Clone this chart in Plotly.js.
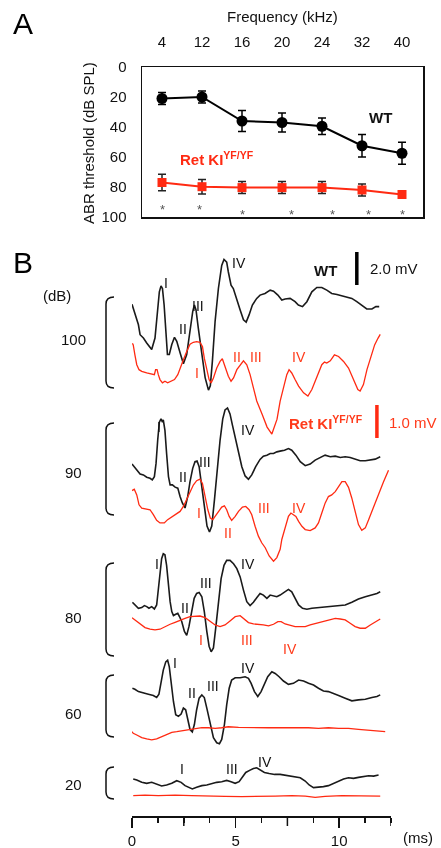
<!DOCTYPE html>
<html>
<head>
<meta charset="utf-8">
<script src="https://cdn.plot.ly/plotly-3.0.1.min.js"></script>
<style>
html,body{margin:0;padding:0;background:#fff;}
#chart{width:441px;height:848px;will-change:transform;}
#chart .main-svg{will-change:transform;}
#chart text{-webkit-font-smoothing:antialiased;}
</style>
</head>
<body>
<div id="chart"></div>
<script>
// ---------- Panel A data: ABR thresholds (dB SPL) ----------
const freqLabels = ['4','12','16','20','24','32','40'];
const wtThreshold = [21, 20, 36, 37, 39.5, 52.5, 57.5];
const wtError     = [4, 4, 7, 6.3, 5.5, 7.5, 7.3];
const kiThreshold = [77, 79.8, 80.4, 80.4, 80.4, 82, 85];
const kiError     = [5.5, 4.8, 4, 4, 4, 4, 0];
const sigMarks    = ['*','*','*','*','*','*','*'];

// ---------- Panel B data: ABR waveforms (time in ms, amplitude in µV) ----------
const levels = ['100','90','80','60','20'];
const timeLabels = [0, 5, 10];
const scaleWT_mV = 2.0;
const scaleKI_mV = 1.0;

const wt100T = [0,0.14,0.31,0.39,0.55,0.71,0.87,0.95,1.11,1.22,1.32,1.40,1.47,1.55,1.63,1.71,1.80,1.92,2.05,2.16,2.32,2.48,2.64,2.80,2.93,3.01,3.09,3.20,3.37,3.53,3.69,3.78,3.88,4.01,4.17,4.33,4.44,4.57,4.65,4.78,4.89,5.06,5.22,5.38,5.51,5.65,5.81,6.02,6.18,6.42,6.67,6.83,7.04,7.23,7.39,7.63,7.87,8.03,8.23,8.44,8.68,8.92,9.16,9.40,9.64,9.89,10.13,10.37,10.61,10.85,11.09,11.33,11.58,11.77,11.93];
const wt100V = [0,-540,-1240,-1840,-2040,-2340,-2640,-2740,-2040,-640,760,1120,960,-40,-1840,-3040,-3040,-2440,-2000,-2240,-2940,-3600,-3040,-1440,-440,-40,-340,-1440,-3040,-4440,-5200,-4940,-3440,-1040,960,2360,2720,2560,1960,1160,960,360,-340,-940,-1080,-640,-40,360,560,660,860,800,560,260,320,360,160,-40,-140,160,760,1020,1020,860,660,600,520,400,360,160,-40,-280,-280,-140,-140];

const ki100T = [0.02,0.06,0.14,0.23,0.34,0.47,0.71,0.95,1.08,1.14,1.21,1.27,1.35,1.47,1.59,1.72,1.88,2.05,2.21,2.32,2.48,2.64,2.80,2.96,3.12,3.28,3.40,3.49,3.61,3.72,3.82,3.93,4.09,4.25,4.36,4.49,4.65,4.78,4.90,5.06,5.22,5.38,5.54,5.70,5.86,6.02,6.28,6.52,6.75,7.00,7.15,7.31,7.47,7.58,7.71,7.87,8.04,8.28,8.49,8.68,8.92,9.16,9.29,9.40,9.57,9.77,9.97,10.21,10.45,10.69,10.90,11.01,11.17,11.34,11.50,11.71,11.87,11.98];
const ki100V = [0,-50,-350,-650,-800,-850,-900,-930,-950,-800,-800,-950,-1100,-1200,-1150,-1200,-1150,-1100,-950,-750,-500,-250,-30,30,50,30,-100,-450,-800,-1100,-1200,-1050,-750,-550,-470,-700,-1000,-1150,-1050,-800,-650,-530,-650,-950,-1350,-1750,-2150,-2540,-2750,-2300,-1750,-1350,-950,-800,-900,-1100,-1300,-1500,-1600,-1400,-1050,-650,-570,-600,-530,-350,-400,-550,-750,-1100,-1400,-1450,-1250,-800,-450,-50,150,270];

const wt90T = [0,0.11,0.23,0.39,0.55,0.71,0.87,0.98,1.08,1.16,1.24,1.32,1.40,1.47,1.51,1.59,1.67,1.76,1.84,1.95,2.08,2.21,2.32,2.43,2.56,2.69,2.80,2.93,3.04,3.14,3.24,3.37,3.49,3.62,3.74,3.85,3.98,4.12,4.25,4.38,4.49,4.61,4.73,4.85,4.98,5.14,5.30,5.46,5.62,5.78,5.97,6.18,6.34,6.51,6.67,6.83,6.99,7.20,7.36,7.55,7.71,7.91,8.12,8.36,8.60,8.84,9.08,9.32,9.57,9.81,10.05,10.29,10.53,10.77,11.01,11.26,11.50,11.74,11.98];
const wt90V = [0,-160,-400,-600,-660,-800,-860,-960,-760,40,1440,2540,2740,2540,2680,2040,640,-760,-1260,-1260,-1400,-1460,-1960,-2360,-2660,-1960,-1060,-260,140,180,-160,-1360,-2760,-3760,-4120,-3760,-2160,-160,1440,2740,3280,3400,3040,2340,1640,640,-160,-720,-920,-660,-160,280,480,540,640,640,740,800,840,940,840,540,140,-100,0,240,400,540,440,480,400,440,400,280,200,200,240,300,440];

const ki90T = [0,0.11,0.23,0.34,0.47,0.66,0.87,1.03,1.19,1.35,1.56,1.72,1.92,2.11,2.32,2.48,2.64,2.80,2.96,3.12,3.28,3.40,3.53,3.66,3.78,3.90,4.01,4.17,4.33,4.46,4.57,4.69,4.81,4.98,5.14,5.33,5.49,5.65,5.78,5.94,6.10,6.26,6.43,6.62,6.83,6.99,7.15,7.23,7.39,7.55,7.67,7.79,7.91,8.04,8.20,8.36,8.60,8.84,9.00,9.16,9.32,9.48,9.64,9.81,9.97,10.13,10.29,10.45,10.61,10.77,10.93,11.09,11.26,11.42,11.66,11.90,12.14,12.38];
const ki90V = [0,40,-130,-430,-530,-560,-580,-730,-900,-980,-980,-880,-800,-730,-630,-480,-280,-30,170,300,350,220,-180,-580,-830,-880,-780,-630,-500,-460,-580,-780,-900,-780,-630,-500,-480,-580,-730,-1080,-1380,-1580,-1730,-1980,-2140,-2030,-1780,-1480,-1130,-780,-680,-730,-780,-930,-1080,-1180,-1210,-1130,-980,-680,-380,-180,-130,-30,140,270,270,100,-230,-630,-1030,-1200,-1130,-880,-480,-80,270,620];

const wt80T = [0.02,0.14,0.31,0.47,0.60,0.71,0.82,0.95,1.08,1.19,1.27,1.35,1.43,1.51,1.59,1.67,1.76,1.84,1.92,2.00,2.11,2.21,2.29,2.40,2.53,2.64,2.75,2.88,3.00,3.12,3.24,3.37,3.49,3.61,3.72,3.82,3.93,4.04,4.17,4.30,4.44,4.57,4.73,4.90,5.06,5.22,5.38,5.54,5.70,5.86,6.02,6.18,6.34,6.51,6.67,6.83,6.99,7.15,7.36,7.55,7.71,7.87,8.04,8.23,8.44,8.68,9.00,9.32,9.65,9.97,10.29,10.61,10.93,11.26,11.58,11.82,11.98];
const wt80V = [0,-160,-360,-320,-200,-260,-360,-260,-400,-160,840,1840,2640,2940,2880,2240,1040,40,-560,-800,-720,-660,-860,-1160,-1760,-2000,-1460,-560,240,540,600,340,-560,-1760,-2660,-3000,-2760,-1560,40,1440,2240,2540,2540,2340,2040,1540,740,40,-200,0,280,540,440,240,440,400,340,440,600,780,640,240,-160,-360,-420,-360,-320,-320,-260,-200,-160,0,200,340,440,540,640];

const ki80T = [0,0.14,0.39,0.63,0.87,1.11,1.35,1.59,1.84,2.08,2.32,2.56,2.80,3.04,3.28,3.53,3.77,4.01,4.25,4.49,4.73,4.98,5.22,5.43,5.62,5.86,6.10,6.34,6.59,6.83,7.04,7.20,7.39,7.63,7.87,8.12,8.36,8.60,8.84,9.16,9.48,9.81,10.05,10.29,10.53,10.77,11.01,11.26,11.50,11.74,11.98];
const ki80V = [0,-70,-200,-300,-350,-370,-350,-270,-200,-140,-70,-20,30,50,50,0,-100,-220,-270,-220,-100,30,60,-40,-150,-190,-200,-220,-250,-200,-120,-120,-190,-240,-270,-270,-270,-220,-180,-120,-70,-20,-40,-70,-170,-270,-320,-320,-220,-120,-40];

const wt60T = [0.02,0.14,0.31,0.55,0.79,1.03,1.19,1.30,1.40,1.51,1.63,1.72,1.80,1.88,2.00,2.11,2.24,2.37,2.48,2.59,2.69,2.80,2.91,3.01,3.12,3.24,3.37,3.49,3.61,3.77,3.93,4.09,4.22,4.33,4.46,4.57,4.69,4.81,4.98,5.22,5.46,5.62,5.75,5.91,6.07,6.23,6.39,6.55,6.75,6.91,7.10,7.31,7.55,7.79,8.04,8.28,8.52,8.76,9.00,9.24,9.48,9.73,9.97,10.29,10.61,10.93,11.26,11.58,11.82,11.98];
const wt60V = [0,-60,-200,-300,-360,-440,-560,-360,300,1100,1600,1700,1300,400,-800,-1600,-1700,-1560,-1200,-1300,-1800,-2500,-2640,-2200,-1300,-600,-400,-560,-1200,-2200,-3000,-3300,-3360,-3100,-2200,-1000,0,500,640,640,700,600,300,-200,-500,-200,300,700,1000,900,700,440,240,300,500,440,300,200,0,-160,-200,-300,-440,-600,-760,-700,-660,-560,-500,-400];

const ki60T = [0,0.06,0.23,0.47,0.71,0.95,1.19,1.43,1.67,1.92,2.16,2.40,2.64,2.88,3.12,3.37,3.69,4.01,4.33,4.65,5.14,5.62,6.10,6.59,7.07,7.55,8.04,8.52,9.00,9.48,9.97,10.45,10.93,11.42,11.90,12.22];
const ki60V = [0,-50,-100,-180,-220,-250,-220,-150,-80,-20,0,20,50,80,100,120,120,100,120,150,130,120,130,120,120,120,130,120,100,120,100,100,70,50,20,0];

const wt20T = [0.06,0.23,0.47,0.71,0.95,1.19,1.43,1.67,1.92,2.16,2.37,2.56,2.75,2.91,3.12,3.37,3.61,3.85,4.09,4.33,4.57,4.78,4.98,5.17,5.33,5.49,5.70,5.86,6.02,6.18,6.39,6.62,6.88,7.15,7.39,7.63,7.87,8.12,8.36,8.55,8.76,9.00,9.24,9.48,9.73,9.97,10.21,10.45,10.69,10.93,11.18,11.42,11.66,11.90];
const wt20V = [0,-60,-200,-260,-200,-320,-420,-360,-260,-100,-200,-400,-520,-600,-500,-400,-360,-260,-200,-160,-80,-160,-260,-160,140,400,540,640,680,540,400,340,280,280,240,200,140,80,-120,-360,-520,-500,-460,-400,-260,-100,0,80,40,100,140,200,180,240];

const ki20T = [0.06,0.63,1.27,2.08,2.88,3.69,4.49,5.30,6.10,6.91,7.71,8.36,8.84,9.32,10.13,10.93,11.98];
const ki20V = [0,20,0,20,0,0,-20,-30,-10,-10,0,-10,-50,-20,0,0,-10];

// ---------- Layout helpers ----------
const W = 441, H = 848;
const FONT = 'Liberation Sans, Arial, Helvetica, sans-serif';
const RED = '#ff2a12';
const RED_TXT = '#ff3a1a';
const X = px => px / W;
const Y = py => 1 - py / H;

function ann(text, px, py, o) {
  o = o || {};
  return {
    text: text, x: X(px), y: Y(py), xref: 'paper', yref: 'paper',
    showarrow: false, xanchor: o.xanchor || 'center', yanchor: 'middle',
    textangle: o.angle || 0,
    font: {family: FONT, size: o.size || 14, color: o.color || '#111'}
  };
}

// Panel B display: y unit = 1 mV of WT trace (16.5 px); KI traces drawn at 2x gain
const PXMV = 16.5;
const B_BOTTOM = 816, B_TOP = 245;
const gainWT = 2.0 / scaleWT_mV;   // 2.0 mV bar -> 2 units
const gainKI = 2.0 / scaleKI_mV;   // 1.0 mV bar -> 2 units

const waves = [
  {t: wt100T, v: wt100V, off: 31.01, g: gainWT, c: '#1a1a1a', w: 1.6},
  {t: ki100T, v: ki100V, off: 28.65, g: gainKI, c: RED, w: 1.3},
  {t: wt90T,  v: wt90V,  off: 21.33, g: gainWT, c: '#1a1a1a', w: 1.6},
  {t: ki90T,  v: ki90V,  off: 19.72, g: gainKI, c: RED, w: 1.3},
  {t: wt80T,  v: wt80V,  off: 12.95, g: gainWT, c: '#1a1a1a', w: 1.6},
  {t: ki80T,  v: ki80V,  off: 12.02, g: gainKI, c: RED, w: 1.3},
  {t: wt60T,  v: wt60V,  off: 7.74,  g: gainWT, c: '#1a1a1a', w: 1.6},
  {t: ki60T,  v: ki60V,  off: 5.11,  g: gainKI, c: RED, w: 1.3},
  {t: wt20T,  v: wt20V,  off: 2.24,  g: gainWT, c: '#1a1a1a', w: 1.6},
  {t: ki20T,  v: ki20V,  off: 1.23,  g: gainKI, c: RED, w: 1.3}
];

const idx = freqLabels.map((_, i) => i);

const traces = [
  {x: idx, y: wtThreshold, xaxis: 'x', yaxis: 'y', type: 'scatter', mode: 'lines+markers',
   line: {color: '#000', width: 2}, marker: {symbol: 'circle', size: 11, color: '#000'},
   error_y: {type: 'data', array: wtError, visible: true, color: '#000', thickness: 1.5, width: 4},
   cliponaxis: false},
  {x: idx, y: kiThreshold, xaxis: 'x', yaxis: 'y', type: 'scatter', mode: 'lines+markers',
   line: {color: RED, width: 2}, marker: {symbol: 'square', size: 9, color: RED},
   error_y: {type: 'data', array: kiError, visible: true, color: '#222', thickness: 1.5, width: 4},
   cliponaxis: false}
];

waves.forEach(wv => {
  traces.push({
    x: wv.t, y: wv.v.map(a => wv.off + wv.g * a / 1000),
    xaxis: 'x2', yaxis: 'y2', type: 'scatter', mode: 'lines',
    line: {color: wv.c, width: wv.w}, cliponaxis: false, hoverinfo: 'skip'
  });
});

// brackets for dB levels
const bracketSpans = [[297, 388], [423, 515], [563, 656], [675, 737], [767, 799]];
const shapes = bracketSpans.map(([a, b]) => ({
  type: 'path', xref: 'paper', yref: 'paper',
  path: `M ${X(114)},${Y(a)} Q ${X(106)},${Y(a)} ${X(106)},${Y(a + 7)} L ${X(106)},${Y(b - 7)} Q ${X(106)},${Y(b)} ${X(114)},${Y(b)}`,
  line: {color: '#111', width: 1.5}
}));
// tall unlabeled ticks at 2.5, 7.5, 12.5 ms
[2.5, 7.5, 12.5].forEach(t => shapes.push({type: 'line', xref: 'x2', yref: 'paper',
  x0: t, x1: t, y0: Y(B_BOTTOM), y1: Y(B_BOTTOM + 10), line: {color: '#111', width: 1.5}}));
// scale bars
shapes.push({type: 'line', xref: 'x2', yref: 'y2', x0: 10.85, x1: 10.85,
  y0: (B_BOTTOM - 285) / PXMV, y1: (B_BOTTOM - 285) / PXMV + gainWT * scaleWT_mV, line: {color: '#000', width: 3.5}});
shapes.push({type: 'line', xref: 'x2', yref: 'y2', x0: 11.82, x1: 11.82,
  y0: (B_BOTTOM - 438) / PXMV, y1: (B_BOTTOM - 438) / PXMV + gainKI * scaleKI_mV, line: {color: RED, width: 3.5}});

const annotations = [
  ann('A', 23, 24, {size: 30, color: '#000'}),
  ann('B', 23, 262, {size: 30, color: '#000'}),
  ann('Frequency (kHz)', 282, 17, {size: 15}),
  ann('ABR threshold (dB SPL)', 88, 143, {size: 15, angle: -90}),
  ann('<b>WT</b>', 380, 118, {size: 15}),
  ann('<b>Ret KI<sup>YF/YF</sup></b>', 178, 158, {size: 15, color: RED, xanchor: 'left'}),
  // panel B
  ann('(dB)', 57, 295, {size: 15}),
  ann('<b>WT</b>', 325, 270, {size: 15}),
  ann(scaleWT_mV.toFixed(1) + ' mV', 368, 268, {size: 15, xanchor: 'left'}),
  ann('<b>Ret KI<sup>YF/YF</sup></b>', 287, 422, {size: 15, color: RED_TXT, xanchor: 'left'}),
  ann(scaleKI_mV.toFixed(1) + ' mV', 387, 422, {size: 15, color: RED_TXT, xanchor: 'left'}),
  ann('(ms)', 418, 837, {size: 15})
];
const levelY = [339, 473, 617, 713, 784];
levels.forEach((lv, i) => annotations.push(ann(lv, 73, levelY[i], {size: 15})));

// significance asterisks (panel A)
const starPos = [[162, 210], [199, 210], [243, 214], [291, 214], [332, 214], [368, 214], [402, 214]];
sigMarks.forEach((s, i) => annotations.push(ann(s, starPos[i][0], starPos[i][1], {size: 13, color: '#555'})));

// wave labels
const blackLabels = [
  ['I',166,283],['II',183,329],['III',198,306],['IV',239,263],
  ['I',159,427],['II',183,477],['III',205,462],['IV',248,430],
  ['I',157,564],['II',185,608],['III',206,583],['IV',248,564],
  ['I',175,663],['II',192,693],['III',213,686],['IV',248,668],
  ['I',182,769],['III',232,769],['IV',265,762]
];
const redLabels = [
  ['I',197,373],['II',237,357],['III',256,357],['IV',299,357],
  ['I',199,513],['II',228,533],['III',264,508],['IV',299,508],
  ['I',201,640],['III',247,640],['IV',290,649]
];
blackLabels.forEach(l => annotations.push(ann(l[0], l[1], l[2], {size: 14, color: '#111'})));
redLabels.forEach(l => annotations.push(ann(l[0], l[1], l[2], {size: 14, color: RED_TXT})));

const layout = {
  width: W, height: H, margin: {l: 0, r: 0, t: 0, b: 0},
  paper_bgcolor: '#fff', plot_bgcolor: 'rgba(0,0,0,0)', showlegend: false,
  font: {family: FONT, color: '#111'},
  xaxis: {domain: [X(142), X(423)], anchor: 'y', side: 'top', range: [-0.5, 6.525],
    tickmode: 'array', tickvals: idx, ticktext: freqLabels, ticks: 'outside', ticklen: 13,
    tickcolor: 'rgba(0,0,0,0)', showline: true, mirror: true, linecolor: '#111', linewidth: 1.5,
    showgrid: false, zeroline: false, tickfont: {family: FONT, size: 15, color: '#111'}},
  yaxis: {domain: [Y(217), Y(67)], anchor: 'x', range: [100, 0],
    tickmode: 'array', tickvals: [0, 20, 40, 60, 80, 100], ticks: 'outside', ticklen: 11,
    tickcolor: 'rgba(0,0,0,0)', showline: true, mirror: true, linecolor: '#111', linewidth: 1.5,
    showgrid: false, zeroline: false, tickfont: {family: FONT, size: 15, color: '#111'}},
  xaxis2: {domain: [X(132), X(391)], anchor: 'y2', range: [0, 12.5],
    tickmode: 'array', tickvals: timeLabels, ticktext: timeLabels.map(String),
    ticks: 'outside', ticklen: 10, tickwidth: 1.5, tickcolor: '#111',
    minor: {tickmode: 'linear', tick0: 0, dtick: 1.25, ticks: 'outside', ticklen: 5, tickwidth: 1.5, tickcolor: '#111'},
    showline: true, linecolor: '#111', linewidth: 2, showgrid: false, zeroline: false,
    ticklabelstandoff: 0,
    tickfont: {family: FONT, size: 15, color: '#111'}},
  yaxis2: {domain: [Y(B_BOTTOM), Y(B_TOP)], anchor: 'x2', range: [0, (B_BOTTOM - B_TOP) / PXMV],
    visible: false, showgrid: false, zeroline: false},
  shapes: shapes,
  annotations: annotations
};

Plotly.newPlot('chart', traces, layout, {staticPlot: true, displayModeBar: false});
</script>
</body>
</html>
